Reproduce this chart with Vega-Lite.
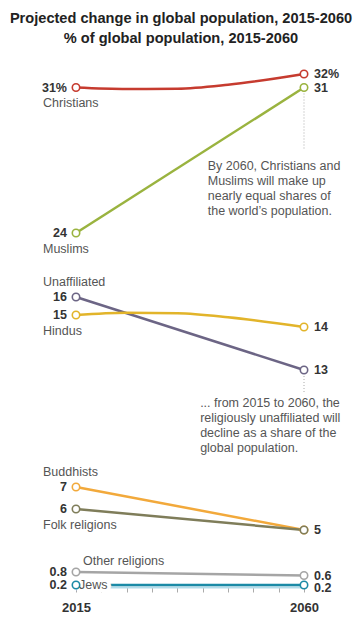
{
  "$schema": "https://vega.github.io/schema/vega-lite/v6.json",
  "width": 362,
  "height": 576,
  "autosize": {"type": "none"},
  "padding": {"top": 50, "left": 0, "right": 0, "bottom": 0},
  "background": "white",
  "title": {
    "text": "Projected change in global population, 2015-2060",
    "subtitle": "% of global population, 2015-2060",
    "anchor": "middle",
    "font": "Liberation Sans",
    "fontSize": 14.6,
    "fontWeight": "bold",
    "color": "#222222",
    "subtitleFont": "Liberation Sans",
    "subtitleFontSize": 14.6,
    "subtitleFontWeight": "bold",
    "subtitleColor": "#222222",
    "subtitlePadding": 6,
    "offset": 4
  },
  "config": {"view": {"stroke": null}, "text": {"font": "Liberation Sans"}},
  "datasets": {
    "series": [
      {"religion": "Christians", "year": 2015, "value": 31},
      {"religion": "Christians", "year": 2025, "value": 30.93},
      {"religion": "Christians", "year": 2035, "value": 30.94},
      {"religion": "Christians", "year": 2045, "value": 31.2},
      {"religion": "Christians", "year": 2060, "value": 32},
      {"religion": "Muslims", "year": 2015, "value": 24},
      {"religion": "Muslims", "year": 2060, "value": 31},
      {"religion": "Unaffiliated", "year": 2015, "value": 16},
      {"religion": "Unaffiliated", "year": 2060, "value": 13},
      {"religion": "Hindus", "year": 2015, "value": 15},
      {"religion": "Hindus", "year": 2025, "value": 15.13},
      {"religion": "Hindus", "year": 2035, "value": 15.1},
      {"religion": "Hindus", "year": 2045, "value": 14.82},
      {"religion": "Hindus", "year": 2060, "value": 14},
      {"religion": "Buddhists", "year": 2015, "value": 7},
      {"religion": "Buddhists", "year": 2060, "value": 5},
      {"religion": "Folk religions", "year": 2015, "value": 6},
      {"religion": "Folk religions", "year": 2060, "value": 5},
      {"religion": "Other religions", "year": 2015, "value": 0.8},
      {"religion": "Other religions", "year": 2060, "value": 0.6},
      {"religion": "Jews", "year": 2015, "value": 0.2},
      {"religion": "Jews", "year": 2060, "value": 0.2}
    ],
    "guides": [
      {"year": 2060, "value": 31, "value2": 28},
      {"year": 2060, "value": 13, "value2": 11.87}
    ],
    "notes": [
      {"year": 2041, "value": 27.5, "text": "By 2060, Christians and\nMuslims will make up\nnearly equal shares of\nthe world’s population."},
      {"year": 2039.5, "value": 11.64, "text": "... from 2015 to 2060, the\nreligiously unaffiliated will\ndecline as a share of the\nglobal population."}
    ]
  },
  "data": {"name": "series"},
  "encoding": {
    "x": {
      "field": "year",
      "type": "quantitative",
      "scale": {"domain": [2015, 2060], "range": [76, 304], "nice": false, "zero": false},
      "axis": {
        "title": null,
        "values": [2015, 2020, 2025, 2030, 2035, 2040, 2045, 2050, 2055, 2060],
        "format": "d",
        "labelExpr": "datum.value == 2015 || datum.value == 2060 ? datum.label : ''",
        "grid": false,
        "offset": -39,
        "domainColor": "#b3dcea",
        "domainWidth": 2,
        "tickColor": "#aaaaaa",
        "tickSize": 5,
        "labelFont": "Liberation Sans",
        "labelFontSize": 13,
        "labelFontWeight": "bold",
        "labelColor": "#333333",
        "labelPadding": 9,
        "labelFlush": false
      }
    },
    "y": {
      "field": "value",
      "type": "quantitative",
      "scale": {
        "domain": [0.2, 0.6, 0.8, 5, 6, 7, 13, 14, 15, 16, 24, 31, 32],
        "range": [535, 525.5, 522, 480, 459, 437, 320, 277, 265, 247, 183, 37.5, 24],
        "nice": false,
        "zero": false
      },
      "axis": null
    }
  },
  "layer": [
    {
      "data": {"name": "guides"},
      "mark": {"type": "rule", "color": "#aaaaaa", "strokeDash": [1, 2], "strokeWidth": 1},
      "encoding": {"y2": {"field": "value2"}}
    },
    {
      "mark": {"type": "line", "interpolate": "monotone", "strokeWidth": 2.5},
      "encoding": {
        "color": {
          "field": "religion",
          "type": "nominal",
          "scale": {
            "domain": ["Christians", "Muslims", "Unaffiliated", "Hindus", "Buddhists", "Folk religions", "Other religions", "Jews"],
            "range": ["#c63b2f", "#9ab33f", "#6c6585", "#e2b42a", "#f2a93b", "#7f7d5a", "#a5a5a5", "#1b8aa6"]
          },
          "legend": null
        },
        "detail": {"field": "religion"}
      }
    },
    {
      "transform": [{"filter": "datum.religion === 'Jews' && datum.year == 2015"}],
      "mark": {"type": "text", "align": "left", "baseline": "middle", "dx": 3, "fontSize": 12.5, "stroke": "white", "strokeWidth": 7, "fill": "white"},
      "encoding": {"text": {"field": "religion"}}
    },
    {
      "transform": [{"filter": "datum.year == 2015 || datum.year == 2060"}],
      "mark": {"type": "point", "shape": "circle", "filled": true, "fill": "white", "size": 55, "strokeWidth": 1.6, "opacity": 1},
      "encoding": {
        "stroke": {
          "field": "religion",
          "type": "nominal",
          "scale": {
            "domain": ["Christians", "Muslims", "Unaffiliated", "Hindus", "Buddhists", "Folk religions", "Other religions", "Jews"],
            "range": ["#c63b2f", "#9ab33f", "#6c6585", "#e2b42a", "#f2a93b", "#7f7d5a", "#a5a5a5", "#1b8aa6"]
          },
          "legend": null
        }
      }
    },
    {
      "transform": [
        {"filter": "datum.year == 2015"},
        {"calculate": "datum.religion === 'Christians' ? datum.value + '%' : '' + datum.value", "as": "label"}
      ],
      "mark": {"type": "text", "align": "right", "baseline": "middle", "dx": -9, "fontSize": 12.5, "fontWeight": "bold", "color": "#333333"},
      "encoding": {"text": {"field": "label"}}
    },
    {
      "transform": [
        {"filter": "datum.year == 2060 && datum.religion !== 'Folk religions' && datum.religion !== 'Jews'"},
        {"calculate": "datum.religion === 'Christians' ? datum.value + '%' : '' + datum.value", "as": "label"}
      ],
      "mark": {"type": "text", "align": "left", "baseline": "middle", "dx": 10, "fontSize": 12.5, "fontWeight": "bold", "color": "#333333"},
      "encoding": {"text": {"field": "label"}}
    },
    {
      "transform": [
        {"filter": "datum.year == 2060 && datum.religion === 'Jews'"},
        {"calculate": "'' + datum.value", "as": "label"}
      ],
      "mark": {"type": "text", "align": "left", "baseline": "middle", "dx": 10, "dy": 3, "fontSize": 12.5, "fontWeight": "bold", "color": "#333333"},
      "encoding": {"text": {"field": "label"}}
    },
    {
      "transform": [{"filter": {"and": [{"field": "year", "equal": 2015}, {"field": "religion", "oneOf": ["Christians", "Muslims", "Hindus", "Folk religions"]}]}}],
      "mark": {"type": "text", "align": "left", "baseline": "middle", "dx": -33, "dy": 15.5, "fontSize": 12.5, "color": "#555555"},
      "encoding": {"text": {"field": "religion"}}
    },
    {
      "transform": [{"filter": {"and": [{"field": "year", "equal": 2015}, {"field": "religion", "oneOf": ["Unaffiliated", "Buddhists"]}]}}],
      "mark": {"type": "text", "align": "left", "baseline": "middle", "dx": -33, "dy": -15, "fontSize": 12.5, "color": "#555555"},
      "encoding": {"text": {"field": "religion"}}
    },
    {
      "transform": [{"filter": "datum.religion === 'Other religions' && datum.year == 2015"}],
      "mark": {"type": "text", "align": "left", "baseline": "middle", "dx": 7, "dy": -11, "fontSize": 12.5, "color": "#555555"},
      "encoding": {"text": {"field": "religion"}}
    },
    {
      "transform": [{"filter": "datum.religion === 'Jews' && datum.year == 2015"}],
      "mark": {"type": "text", "align": "left", "baseline": "middle", "dx": 3, "fontSize": 12.5, "color": "#555555"},
      "encoding": {"text": {"field": "religion"}}
    },
    {
      "data": {"name": "notes"},
      "mark": {"type": "text", "align": "left", "baseline": "top", "lineBreak": "\n", "lineHeight": 15, "fontSize": 12.5, "color": "#555555"},
      "encoding": {"text": {"field": "text"}}
    }
  ]
}
